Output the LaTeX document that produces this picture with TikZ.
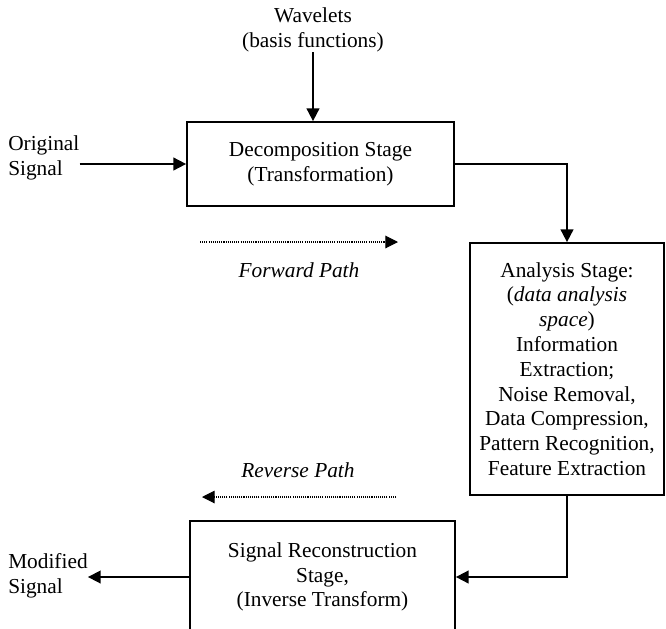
\documentclass[tikz,border=0pt]{standalone}
\usepackage{fontspec}
\setmainfont{Liberation Serif}
\usetikzlibrary{arrows.meta}
\begin{document}
\begin{tikzpicture}[x=0.75pt,y=-0.75pt,
  >={Triangle[length=9.5pt,width=9.5pt]},
  every node/.style={font=\fontsize{16}{18.6}\selectfont},
  stagebox/.style={draw,line width=1.3pt,align=center,inner sep=0pt},
  plain/.style={align=center,inner sep=0pt},
  link/.style={line width=1.3pt,->},
  pathline/.style={line width=0.8pt,dash pattern=on 0.8pt off 0.8pt,->}]
\useasboundingbox (0,0) rectangle (666,628);
\node[plain] (wave) at (313,30) {Wavelets\\(basis functions)};
\node[plain,align=left,anchor=west] (orig) at (8,158) {Original\\Signal};
\node[stagebox,minimum width=200.25pt,minimum height=63pt] (dec) at (320.5,164)
  {Decomposition Stage\\(Transformation)};
\node[stagebox,minimum width=145.5pt,minimum height=189pt] (ana) at (567,369)
  {Analysis Stage:\\(\textit{data analysis}\\\textit{space})\\Information\\Extraction;\\Noise Removal,\\Data Compression,\\Pattern Recognition,\\Feature Extraction};
\node[stagebox,minimum width=198.75pt,minimum height=84pt] (rec) at (322.5,577)
  {Signal Reconstruction\\Stage,\\(Inverse Transform)};
\node[plain,align=left,anchor=west] (mod) at (8,576) {Modified\\Signal};
\node[plain,font=\fontsize{16}{18.6}\selectfont\itshape] (fwd) at (299,270) {Forward Path};
\node[plain,font=\fontsize{16}{18.6}\selectfont\itshape] (rev) at (298,470) {Reverse Path};
\coordinate (fwdA) at (200,242);
\coordinate (fwdB) at (398,242);
\coordinate (revA) at (396,497);
\coordinate (revB) at (202,497);
\draw[link] (wave.south) -- (wave.south |- dec.north);
\draw[link] (orig.east |- dec.west) -- (dec.west);
\draw[link] (dec.east) -| (ana.north);
\draw[link] (ana.south) |- (rec.east);
\draw[link] (rec.west) -- (rec.west -| mod.east);
\draw[pathline] (fwdA) -- (fwdB);
\draw[pathline] (revA) -- (revB);
\end{tikzpicture}
\end{document}
